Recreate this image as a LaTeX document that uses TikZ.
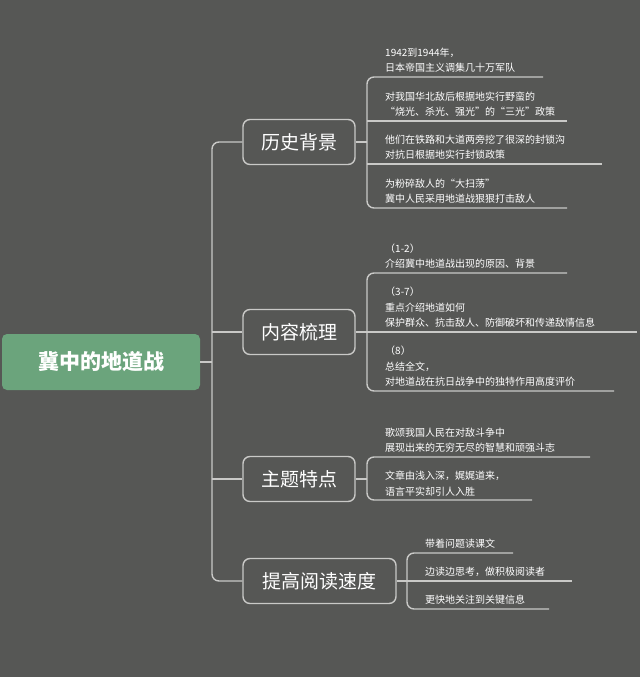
\documentclass[tikz,border=0pt]{standalone}
\usepackage{fontspec}
\newfontfamily\cjk{Noto Sans CJK SC}
\definecolor{bg}{HTML}{565755}
\definecolor{ln}{HTML}{C9C9C7}
\definecolor{rootg}{HTML}{6BA47C}
\begin{document}
\begin{tikzpicture}[x=1pt,y=-1pt,
  br/.style={draw=ln,line width=1.4pt,rounded corners=7pt,minimum height=45pt,text=white,font=\cjk\fontsize{19}{22}\selectfont,inner xsep=12pt},
  leaf/.style={anchor=south west,align=left,text=white,font=\cjk\fontsize{10}{15.5}\selectfont,inner sep=0pt},
  con/.style={draw=ln,line width=1.4pt,rounded corners=7pt}]
\fill[bg] (0,0) rectangle (640,677);
\node[fill=rootg,rounded corners=5pt,minimum width=198pt,minimum height=56pt,text=white,font=\cjk\bfseries\fontsize{21}{24}\selectfont] (root) at (101,362) {冀中的地道战};
\node[br,minimum width=112pt] (b1) at (299,142) {历史背景};
\node[br,minimum width=112pt] (b2) at (299,332) {内容梳理};
\node[br,minimum width=112pt] (b3) at (299,479) {主题特点};
\node[br,minimum width=153pt] (b4) at (319.5,581) {提高阅读速度};
\coordinate (s0) at (212,362);
\draw[con] (root.east) -- (s0);
\draw[con] (b1.west) -- (212,142) -- (212,581) -- (b4.west);
\draw[con] (212,332) -- (b2.west);
\draw[con] (212,479) -- (b3.west);
% branch 1
\draw[con] (b1.east) -- (367,142);
\draw[con] (543,77) -- (367,77) -- (367,208) -- (567,208);
\draw[con] (367,121) -- (567,121);
\draw[con] (367,164) -- (602,164);
\node[leaf] (l11) at (385,73) {1942到1944年，\\日本帝国主义调集几十万军队};
\node[leaf] (l12) at (385,117) {对我国华北敌后根据地实行野蛮的\\“烧光、杀光、强光”的“三光”政策};
\node[leaf] (l13) at (385,160) {他们在铁路和大道两旁挖了很深的封锁沟\\对抗日根据地实行封锁政策};
\node[leaf] (l14) at (385,204) {为粉碎敌人的“大扫荡”\\冀中人民采用地道战狠狠打击敌人};
% branch 2
\draw[con] (b2.east) -- (367,332);
\draw[con] (567,273) -- (367,273) -- (367,391) -- (614,391);
\draw[con] (367,332) -- (637,332);
\node[leaf] (l21) at (385,269) {（1-2）\\介绍冀中地道战出现的原因、背景};
\node[leaf] (l22) at (385,328) {（3-7）\\重点介绍地道如何\\保护群众、抗击敌人、防御破坏和传递敌情信息};
\node[leaf] (l23) at (385,387) {（8）\\总结全文，\\对地道战在抗日战争中的独特作用高度评价};
% branch 3
\draw[con] (b3.east) -- (367,479);
\draw[con] (590,457) -- (367,457) -- (367,500) -- (532,500);
\node[leaf] (l31) at (385,453) {歌颂我国人民在对敌斗争中\\展现出来的无穷无尽的智慧和顽强斗志};
\node[leaf] (l32) at (385,496) {文章由浅入深，娓娓道来，\\语言平实却引人入胜};
% branch 4
\draw[con] (b4.east) -- (407,581);
\draw[con] (513,553) -- (407,553) -- (407,609) -- (549,609);
\draw[con] (407,581) -- (572,581);
\node[leaf] (l41) at (425,549) {带着问题读课文};
\node[leaf] (l42) at (425,577) {边读边思考，做积极阅读者};
\node[leaf] (l43) at (425,605) {更快地关注到关键信息};
\end{tikzpicture}
\end{document}
